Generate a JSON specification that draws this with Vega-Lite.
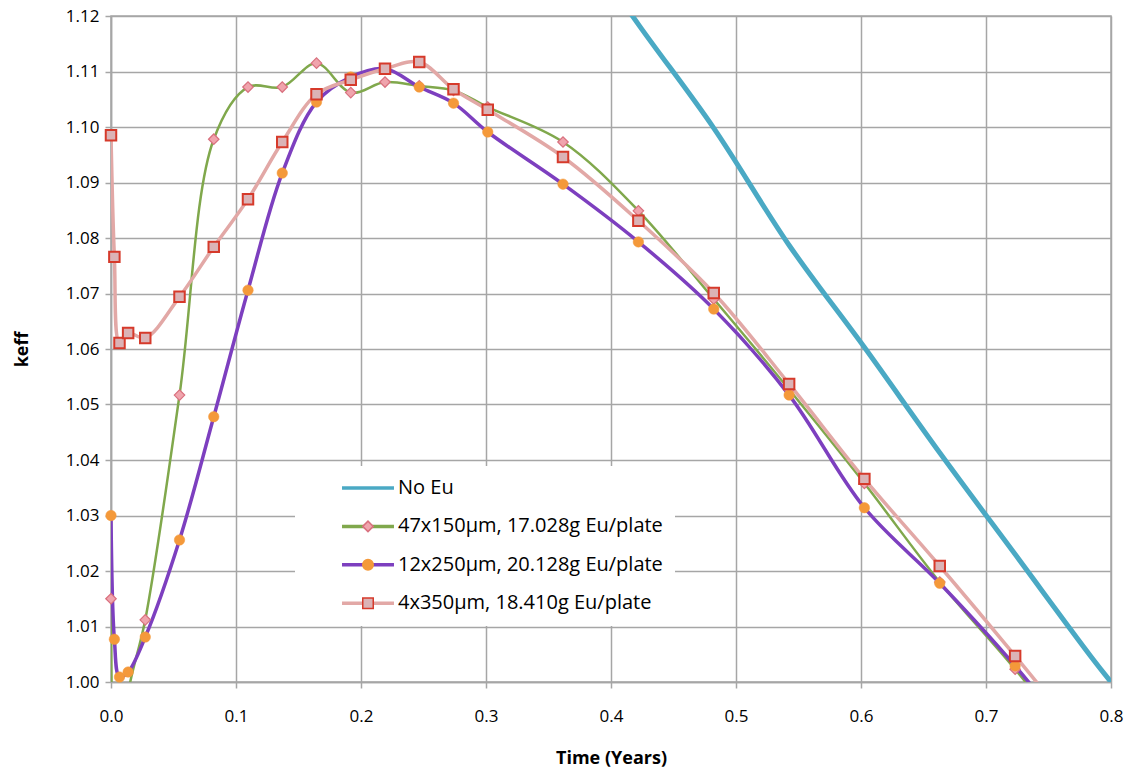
{
  "$schema": "https://vega.github.io/schema/vega-lite/v6.json",
  "width": 1000,
  "height": 666,
  "autosize": {"type": "none"},
  "padding": {"left": 111, "top": 16, "right": 24, "bottom": 92},
  "background": "white",
  "config": {
    "font": "Open Sans",
    "view": {"stroke": "#a6a6a6", "strokeWidth": 1.5},
    "axis": {
      "gridColor": "#a6a6a6", "gridWidth": 1.5,
      "domainColor": "#a6a6a6", "domainWidth": 1.5,
      "tickColor": "#a6a6a6", "tickWidth": 1.5, "tickSize": 6,
      "labelFont": "Open Sans", "labelFontSize": 17, "labelColor": "#000000",
      "titleFont": "Open Sans", "titleFontSize": 18, "titleFontWeight": "bold", "titleColor": "#000000",
      "labelFlush": false, "labelOverlap": false, "labelBound": false
    },
    "legend": {
      "orient": "none", "legendX": 184, "legendY": 450,
      "title": null, "padding": 12, "rowPadding": 18.4,
      "symbolSize": 110,
      "labelFont": "Open Sans", "labelFontSize": 20, "labelColor": "#000000", "labelLimit": 500
    }
  },
  "datasets": {
    "keff": [
      {"series": "No Eu", "time": 0.3616, "keff": 1.138},
      {"series": "No Eu", "time": 0.4219, "keff": 1.1185},
      {"series": "No Eu", "time": 0.4822, "keff": 1.0998},
      {"series": "No Eu", "time": 0.5425, "keff": 1.0787},
      {"series": "No Eu", "time": 0.6027, "keff": 1.0603},
      {"series": "No Eu", "time": 0.663, "keff": 1.0413},
      {"series": "No Eu", "time": 0.7233, "keff": 1.023},
      {"series": "No Eu", "time": 0.7836, "keff": 1.0047},
      {"series": "No Eu", "time": 0.8, "keff": 1.0},

      {"series": "\u00a047x150µm, 17.028g Eu/plate", "time": 0, "keff": 1.015},
      {"series": "\u00a047x150µm, 17.028g Eu/plate", "time": 0.0027, "keff": 0.985},
      {"series": "\u00a047x150µm, 17.028g Eu/plate", "time": 0.0068, "keff": 0.98},
      {"series": "\u00a047x150µm, 17.028g Eu/plate", "time": 0.0137, "keff": 0.998},
      {"series": "\u00a047x150µm, 17.028g Eu/plate", "time": 0.0274, "keff": 1.0112},
      {"series": "\u00a047x150µm, 17.028g Eu/plate", "time": 0.0548, "keff": 1.0517},
      {"series": "\u00a047x150µm, 17.028g Eu/plate", "time": 0.0822, "keff": 1.0978},
      {"series": "\u00a047x150µm, 17.028g Eu/plate", "time": 0.1096, "keff": 1.1072},
      {"series": "\u00a047x150µm, 17.028g Eu/plate", "time": 0.137, "keff": 1.1072},
      {"series": "\u00a047x150µm, 17.028g Eu/plate", "time": 0.1644, "keff": 1.1115},
      {"series": "\u00a047x150µm, 17.028g Eu/plate", "time": 0.1918, "keff": 1.1062},
      {"series": "\u00a047x150µm, 17.028g Eu/plate", "time": 0.2192, "keff": 1.1081},
      {"series": "\u00a047x150µm, 17.028g Eu/plate", "time": 0.2466, "keff": 1.1074},
      {"series": "\u00a047x150µm, 17.028g Eu/plate", "time": 0.274, "keff": 1.1066},
      {"series": "\u00a047x150µm, 17.028g Eu/plate", "time": 0.3014, "keff": 1.1036},
      {"series": "\u00a047x150µm, 17.028g Eu/plate", "time": 0.3616, "keff": 1.0973},
      {"series": "\u00a047x150µm, 17.028g Eu/plate", "time": 0.4219, "keff": 1.0849},
      {"series": "\u00a047x150µm, 17.028g Eu/plate", "time": 0.4822, "keff": 1.069},
      {"series": "\u00a047x150µm, 17.028g Eu/plate", "time": 0.5425, "keff": 1.0527},
      {"series": "\u00a047x150µm, 17.028g Eu/plate", "time": 0.6027, "keff": 1.0358},
      {"series": "\u00a047x150µm, 17.028g Eu/plate", "time": 0.663, "keff": 1.018},
      {"series": "\u00a047x150µm, 17.028g Eu/plate", "time": 0.7233, "keff": 1.0023},
      {"series": "\u00a047x150µm, 17.028g Eu/plate", "time": 0.7836, "keff": 0.985},

      {"series": "12x250µm, 20.128g Eu/plate", "time": 0, "keff": 1.03},
      {"series": "12x250µm, 20.128g Eu/plate", "time": 0.0027, "keff": 1.0077},
      {"series": "12x250µm, 20.128g Eu/plate", "time": 0.0068, "keff": 1.0009},
      {"series": "12x250µm, 20.128g Eu/plate", "time": 0.0137, "keff": 1.0018},
      {"series": "12x250µm, 20.128g Eu/plate", "time": 0.0274, "keff": 1.0081},
      {"series": "12x250µm, 20.128g Eu/plate", "time": 0.0548, "keff": 1.0256},
      {"series": "12x250µm, 20.128g Eu/plate", "time": 0.0822, "keff": 1.0478},
      {"series": "12x250µm, 20.128g Eu/plate", "time": 0.1096, "keff": 1.0706},
      {"series": "12x250µm, 20.128g Eu/plate", "time": 0.137, "keff": 1.0917},
      {"series": "12x250µm, 20.128g Eu/plate", "time": 0.1644, "keff": 1.1045},
      {"series": "12x250µm, 20.128g Eu/plate", "time": 0.1918, "keff": 1.109},
      {"series": "12x250µm, 20.128g Eu/plate", "time": 0.2192, "keff": 1.1105},
      {"series": "12x250µm, 20.128g Eu/plate", "time": 0.2466, "keff": 1.1072},
      {"series": "12x250µm, 20.128g Eu/plate", "time": 0.274, "keff": 1.1043},
      {"series": "12x250µm, 20.128g Eu/plate", "time": 0.3014, "keff": 1.0991},
      {"series": "12x250µm, 20.128g Eu/plate", "time": 0.3616, "keff": 1.0897},
      {"series": "12x250µm, 20.128g Eu/plate", "time": 0.4219, "keff": 1.0793},
      {"series": "12x250µm, 20.128g Eu/plate", "time": 0.4822, "keff": 1.0672},
      {"series": "12x250µm, 20.128g Eu/plate", "time": 0.5425, "keff": 1.0517},
      {"series": "12x250µm, 20.128g Eu/plate", "time": 0.6027, "keff": 1.0314},
      {"series": "12x250µm, 20.128g Eu/plate", "time": 0.663, "keff": 1.0178},
      {"series": "12x250µm, 20.128g Eu/plate", "time": 0.7233, "keff": 1.0029},
      {"series": "12x250µm, 20.128g Eu/plate", "time": 0.7836, "keff": 0.986},

      {"series": "\u00a04x350µm, 18.410g Eu/plate", "time": 0, "keff": 1.0985},
      {"series": "\u00a04x350µm, 18.410g Eu/plate", "time": 0.0027, "keff": 1.0766},
      {"series": "\u00a04x350µm, 18.410g Eu/plate", "time": 0.0068, "keff": 1.0611},
      {"series": "\u00a04x350µm, 18.410g Eu/plate", "time": 0.0137, "keff": 1.0629},
      {"series": "\u00a04x350µm, 18.410g Eu/plate", "time": 0.0274, "keff": 1.062},
      {"series": "\u00a04x350µm, 18.410g Eu/plate", "time": 0.0548, "keff": 1.0694},
      {"series": "\u00a04x350µm, 18.410g Eu/plate", "time": 0.0822, "keff": 1.0784},
      {"series": "\u00a04x350µm, 18.410g Eu/plate", "time": 0.1096, "keff": 1.087},
      {"series": "\u00a04x350µm, 18.410g Eu/plate", "time": 0.137, "keff": 1.0973},
      {"series": "\u00a04x350µm, 18.410g Eu/plate", "time": 0.1644, "keff": 1.1059},
      {"series": "\u00a04x350µm, 18.410g Eu/plate", "time": 0.1918, "keff": 1.1085},
      {"series": "\u00a04x350µm, 18.410g Eu/plate", "time": 0.2192, "keff": 1.1105},
      {"series": "\u00a04x350µm, 18.410g Eu/plate", "time": 0.2466, "keff": 1.1117},
      {"series": "\u00a04x350µm, 18.410g Eu/plate", "time": 0.274, "keff": 1.1068},
      {"series": "\u00a04x350µm, 18.410g Eu/plate", "time": 0.3014, "keff": 1.1031},
      {"series": "\u00a04x350µm, 18.410g Eu/plate", "time": 0.3616, "keff": 1.0946},
      {"series": "\u00a04x350µm, 18.410g Eu/plate", "time": 0.4219, "keff": 1.0831},
      {"series": "\u00a04x350µm, 18.410g Eu/plate", "time": 0.4822, "keff": 1.0701},
      {"series": "\u00a04x350µm, 18.410g Eu/plate", "time": 0.5425, "keff": 1.0537},
      {"series": "\u00a04x350µm, 18.410g Eu/plate", "time": 0.6027, "keff": 1.0366},
      {"series": "\u00a04x350µm, 18.410g Eu/plate", "time": 0.663, "keff": 1.0209},
      {"series": "\u00a04x350µm, 18.410g Eu/plate", "time": 0.7233, "keff": 1.0047},
      {"series": "\u00a04x350µm, 18.410g Eu/plate", "time": 0.7836, "keff": 0.988}
    ]
  },
  "data": {"name": "keff"},
  "encoding": {
    "x": {
      "field": "time", "type": "quantitative",
      "scale": {"domain": [0, 0.8], "nice": false, "zero": false},
      "axis": {"title": "Time (Years)", "values": [0, 0.1, 0.2, 0.3, 0.4, 0.5, 0.6, 0.7, 0.8], "format": ".1f", "labelPadding": 20, "titlePadding": 25}
    },
    "y": {
      "field": "keff", "type": "quantitative",
      "scale": {"domain": [1.0, 1.12], "nice": false, "zero": false},
      "axis": {"title": "keff", "values": [1.0, 1.01, 1.02, 1.03, 1.04, 1.05, 1.06, 1.07, 1.08, 1.09, 1.1, 1.11, 1.12], "format": ".2f", "labelPadding": 6, "titlePadding": 34}
    }
  },
  "layer": [
    {
      "mark": {"type": "line", "interpolate": "catmull-rom", "clip": true},
      "encoding": {
        "stroke": {
          "field": "series", "type": "nominal",
          "scale": {
            "domain": ["No Eu", "\u00a047x150µm, 17.028g Eu/plate", "12x250µm, 20.128g Eu/plate", "\u00a04x350µm, 18.410g Eu/plate"],
            "range": ["#4aa9c4", "#80a84c", "#7d3fbf", "#e2a8a6"]
          },
          "legend": {
            "symbolType": "M4.77,0H14.68", "symbolStrokeWidth": 3.5,
            "fillColor": "white", "labelOffset": 71
          }
        },
        "strokeWidth": {
          "condition": [
            {"test": "datum.series === 'No Eu'", "value": 5},
            {"test": "datum.series === '\u00a047x150µm, 17.028g Eu/plate'", "value": 2.5}
          ],
          "value": 3.5
        }
      }
    },
    {
      "transform": [{"filter": "datum.series !== 'No Eu' && datum.keff >= 1"}],
      "mark": {"type": "point", "filled": true, "size": 110, "opacity": 1},
      "encoding": {
        "shape": {
          "field": "series", "type": "nominal",
          "scale": {
            "domain": ["No Eu", "\u00a047x150µm, 17.028g Eu/plate", "12x250µm, 20.128g Eu/plate", "\u00a04x350µm, 18.410g Eu/plate"],
            "range": ["circle", "diamond", "circle", "square"]
          },
          "legend": {"symbolStrokeWidth": 1.5, "symbolOffset": 51, "labelOpacity": 0, "labelExpr": "'\u00a0'"}
        },
        "fill": {
          "field": "series", "type": "nominal",
          "scale": {
            "domain": ["No Eu", "\u00a047x150µm, 17.028g Eu/plate", "12x250µm, 20.128g Eu/plate", "\u00a04x350µm, 18.410g Eu/plate"],
            "range": ["transparent", "#f0a4ad", "#f4993a", "#dbb3b6"]
          },
          "legend": {"symbolStrokeWidth": 1.5, "symbolOffset": 51, "labelOpacity": 0, "labelExpr": "'\u00a0'"}
        },
        "stroke": {
          "field": "series", "type": "nominal",
          "scale": {
            "domain": ["No Eu", "\u00a047x150µm, 17.028g Eu/plate", "12x250µm, 20.128g Eu/plate", "\u00a04x350µm, 18.410g Eu/plate"],
            "range": ["transparent", "#d9707e", "#f4993a", "#d63a2b"]
          },
          "legend": {"symbolStrokeWidth": 1.5, "symbolOffset": 51, "labelOpacity": 0, "labelExpr": "'\u00a0'"}
        },
        "strokeWidth": {
          "condition": [
            {"test": "datum.series === '\u00a04x350µm, 18.410g Eu/plate'", "value": 2},
            {"test": "datum.series === '\u00a047x150µm, 17.028g Eu/plate'", "value": 1.2}
          ],
          "value": 0.5
        }
      }
    }
  ],
  "resolve": {
    "scale": {"stroke": "independent", "fill": "independent", "shape": "independent"},
    "legend": {"stroke": "independent", "fill": "independent", "shape": "independent"}
  }
}
